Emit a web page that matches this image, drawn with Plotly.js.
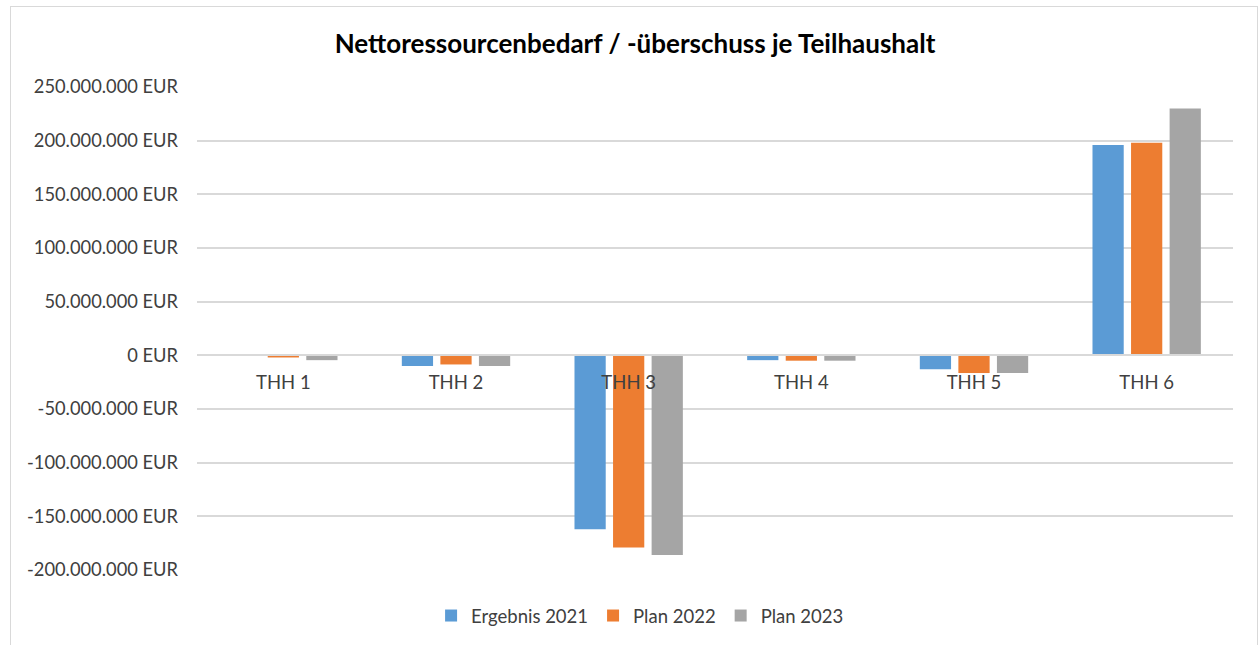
<!DOCTYPE html>
<html>
<head>
<meta charset="utf-8">
<script src="https://cdn.plot.ly/plotly-3.0.1.min.js"></script>
<style>
  html, body { margin: 0; padding: 0; background: #fff; }
  #wrap { position: relative; width: 1260px; height: 645px; }
  #chart { width: 1260px; height: 645px; }
  #frame { position: absolute; left: 10px; top: 6px; width: 1246px; height: 660px;
           border: 1px solid #d9d9d9; pointer-events: none; }
</style>
</head>
<body>
<div id="wrap">
  <div id="chart"></div>
  <div id="frame"></div>
</div>
<script>
const categories = ["THH 1", "THH 2", "THH 3", "THH 4", "THH 5", "THH 6"];
const seriesNames = ["Ergebnis 2021", "Plan 2022", "Plan 2023"];
const ergebnis2021 = [-0.3e6, -10e6, -162e6, -4.5e6, -13e6, 196e6];
const plan2022 = [-2e6, -8.5e6, -179e6, -5e6, -16.5e6, 198e6];
const plan2023 = [-4.5e6, -10e6, -186e6, -5e6, -16.5e6, 230e6];
const tickVals = [250e6, 200e6, 150e6, 100e6, 50e6, 0, -50e6, -100e6, -150e6, -200e6];
const tickText = ["250.000.000 EUR", "200.000.000 EUR", "150.000.000 EUR", "100.000.000 EUR",
  "50.000.000 EUR", "0 EUR", "-50.000.000 EUR", "-100.000.000 EUR", "-150.000.000 EUR", "-200.000.000 EUR"];
const colors = ["#5B9BD5", "#ED7D31", "#A5A5A5"];

const font = "Lato, 'Liberation Sans', Arial, sans-serif";
const allSeries = [ergebnis2021, plan2022, plan2023];
const traces = allSeries.map((vals, i) => ({
  type: "bar",
  name: seriesNames[i],
  x: categories,
  y: vals,
  marker: { color: colors[i], line: { width: 0 } },
  hoverinfo: "x+y+name"
}));

const layout = {
  width: 1260, height: 645,
  margin: { l: 197, r: 27, t: 87, b: 75 },
  paper_bgcolor: "#fff", plot_bgcolor: "#fff",
  font: { family: font, size: 18.5, color: "#404040" },
  title: {
    text: "<b>Nettoressourcenbedarf / -überschuss je Teilhaushalt</b>",
    font: { family: font, size: 26, color: "#000" },
    xref: "container", x: 0.504, xanchor: "center",
    yref: "container", y: 1 - 44 / 645, yanchor: "middle"
  },
  barmode: "group",
  bargap: 0.33,
  bargroupgap: 0.19,
  showlegend: true,
  legend: {
    orientation: "h",
    xref: "container", x: 0.508, xanchor: "center",
    yref: "container", y: (645 - 616) / 645, yanchor: "middle",
    font: { family: font, size: 18.5, color: "#404040" },
    itemwidth: 30, traceorder: "normal"
  },
  xaxis: {
    type: "category",
    anchor: "free",
    position: (570 - 355) / 483,
    showline: true, linecolor: "#d9d9d9", linewidth: 2,
    showgrid: false, zeroline: false,
    ticks: "", ticklabelstandoff: 11,
    tickfont: { family: font, size: 18.5, color: "#404040" },
    fixedrange: true
  },
  yaxis: {
    range: [-200e6, 250e6],
    tickvals: tickVals, ticktext: tickText,
    showgrid: true, gridcolor: "#d9d9d9", gridwidth: 2,
    zeroline: false, showline: false, ticks: "",
    ticklabelstandoff: 18,
    tickfont: { family: font, size: 18.3, color: "#404040" },
    fixedrange: true
  }
};

Plotly.newPlot("chart", traces, layout, { displayModeBar: false, staticPlot: true });
</script>
</body>
</html>
